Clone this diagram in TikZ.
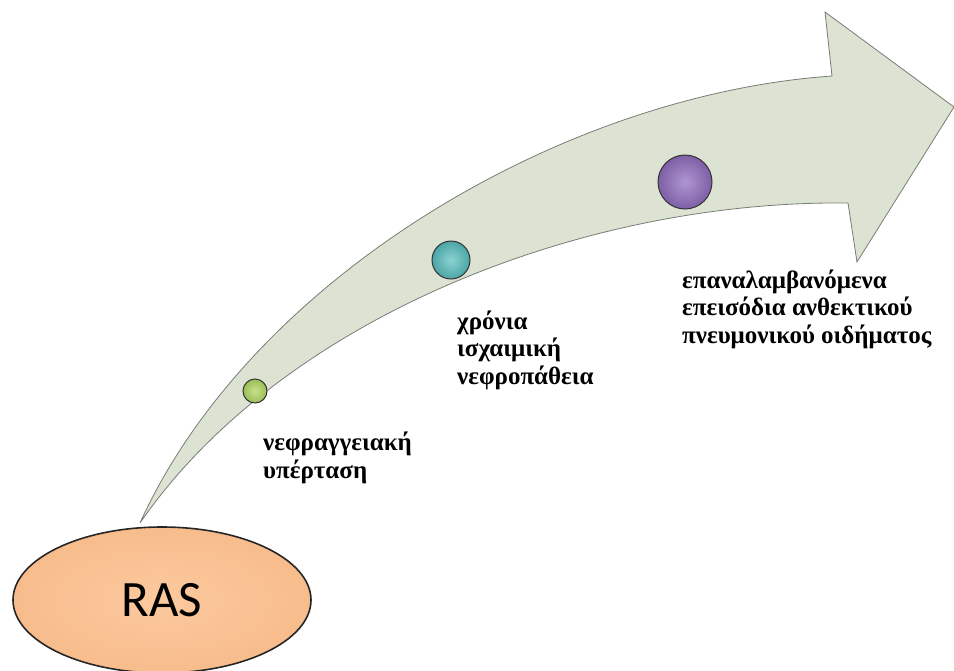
\documentclass[tikz,border=0pt]{standalone}
\usepackage{fontspec}
\setmainfont{Liberation Serif}
\newfontfamily\rasfont{Carlito}
\usetikzlibrary{shapes.geometric}
\definecolor{arrowfill}{RGB}{221,227,210}
\definecolor{arrowline}{RGB}{120,124,118}
\definecolor{peach}{RGB}{251,201,158}
\definecolor{peachdark}{RGB}{248,188,140}
\definecolor{dotgreen}{RGB}{155,190,85}
\definecolor{dotgreenlight}{RGB}{200,225,140}
\definecolor{dotteal}{RGB}{75,165,165}
\definecolor{dottealight}{RGB}{140,210,210}
\definecolor{dotpurple}{RGB}{125,95,165}
\definecolor{dotpurplelight}{RGB}{175,150,210}
\tikzset{
  stage/.style={font=\bfseries\fontsize{25}{27.5}\selectfont, align=left,
    anchor=base west, inner sep=0pt},
  dot/.style={circle, draw=black!80, line width=1pt, inner sep=0pt},
}
\begin{document}
\begin{tikzpicture}[x=1pt,y=-1pt]
  \useasboundingbox (0,0) rectangle (954,670);
  % curved arrow body and head
  \filldraw[fill=arrowfill, draw=arrowline, line width=0.8pt, line join=miter]
    (140,523) .. controls (250,280) and (560,95) .. (832,76)
    -- (825,12) -- (954,107) -- (857,262) -- (848,203)
    .. controls (580,200) and (280,320) .. (140,523) -- cycle;
  % milestones on the arrow
  \node[dot, minimum size=24pt, inner color=dotgreenlight, outer color=dotgreen] (d1) at (255,391) {};
  \node[dot, minimum size=38pt, inner color=dottealight, outer color=dotteal] (d2) at (451,260) {};
  \node[dot, minimum size=54pt, inner color=dotpurplelight, outer color=dotpurple] (d3) at (685,182) {};
  % stage labels (anchored at the baseline of the last line)
  \node[stage] (t1) at (263,478) {νεφραγγειακή\\υπέρταση};
  \node[stage] (t2) at (457,384) {χρόνια\\ισχαιμική\\νεφροπάθεια};
  \node[stage] (t3) at (682,343) {επαναλαμβανόμενα\\επεισόδια ανθεκτικού\\πνευμονικού οιδήματος};
  % origin
  \node[ellipse, draw=black!85, line width=1.6pt, inner color=peach,
        outer color=peachdark, minimum width=298pt, minimum height=146pt,
        font=\rasfont\fontsize{51}{51}\selectfont] (ras) at (162,600) {RAS};
\end{tikzpicture}
\end{document}
